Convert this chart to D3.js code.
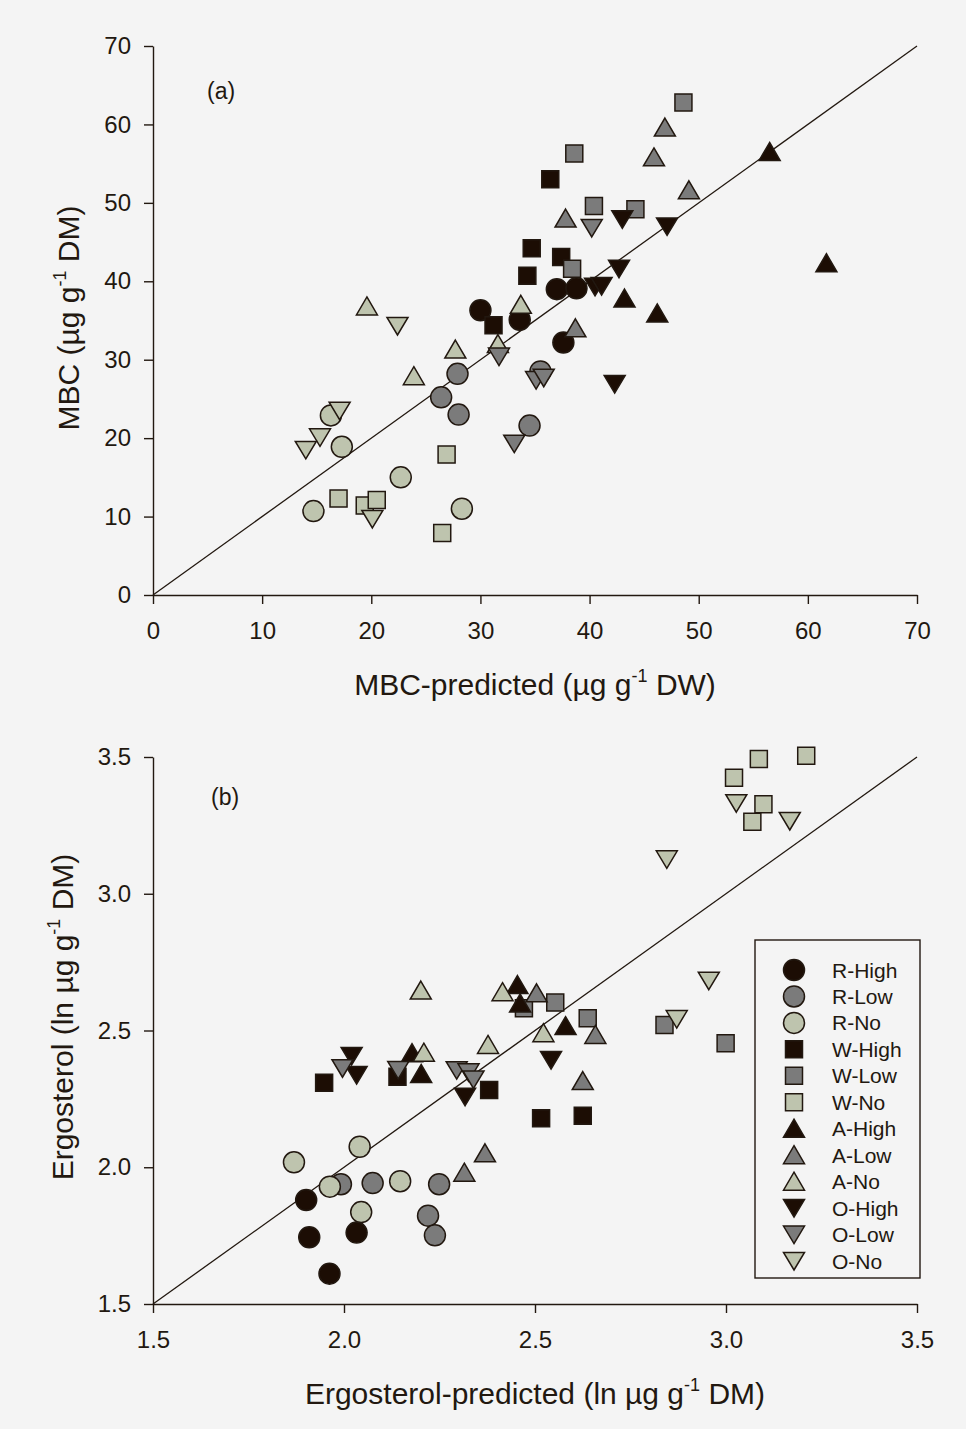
<!DOCTYPE html>
<html>
<head>
<meta charset="utf-8">
<script src="https://cdn.jsdelivr.net/npm/d3@7"></script>
<style>
  body { margin: 0; background: #f4f4f4; }
  svg { display: block; font-family: "Liberation Sans", Arial, sans-serif; }
</style>
</head>
<body>
<div id="chart"></div>
<script>
// groups in legend order
const groups = ["R-High", "R-Low", "R-No", "W-High", "W-Low", "W-No",
                "A-High", "A-Low", "A-No", "O-High", "O-Low", "O-No"];

// panel (a): MBC predicted vs measured, one row per group
const mbcPredicted = [
  [30.0, 33.6, 37.0, 38.8, 37.6],
  [27.9, 26.4, 28.0, 34.5, 35.5],
  [16.3, 17.3, 22.7, 14.7, 28.3],
  [36.4, 34.7, 37.4, 34.3, 31.2],
  [48.6, 38.6, 40.4, 44.2, 38.4],
  [26.9, 17.0, 19.4, 20.5, 26.5],
  [56.5, 61.7, 43.2, 46.2],
  [46.9, 45.9, 49.1, 37.8, 38.7],
  [33.7, 19.6, 27.7, 31.6, 23.9],
  [43.0, 47.1, 42.7, 40.5, 41.1, 42.3],
  [40.2, 31.7, 33.1, 35.1, 35.8],
  [22.4, 17.1, 15.3, 14.0, 20.1]
];
const mbcMeasured = [
  [36.3, 35.1, 39.0, 39.1, 32.2],
  [28.2, 25.2, 23.0, 21.6, 28.5],
  [22.9, 18.9, 15.0, 10.7, 11.0],
  [53.0, 44.2, 43.1, 40.7, 34.4],
  [62.8, 56.3, 49.6, 49.2, 41.6],
  [17.9, 12.3, 11.4, 12.1, 7.9],
  [56.5, 42.3, 37.8, 35.9],
  [59.6, 55.8, 51.6, 48.0, 34.0],
  [37.0, 36.8, 31.3, 32.0, 27.9],
  [47.9, 47.0, 41.6, 39.3, 39.4, 26.9],
  [46.8, 30.4, 19.3, 27.4, 27.7],
  [34.3, 23.5, 20.1, 18.5, 9.7]
];

// panel (b): ergosterol predicted vs measured (ln)
const ergPredicted = [
  [1.901, 1.909, 2.033, 1.962],
  [1.992, 2.075, 2.249, 2.220, 2.238],
  [1.869, 2.041, 1.963, 2.147, 2.045],
  [1.948, 2.140, 2.380, 2.516, 2.625],
  [2.638, 2.553, 2.839, 2.999, 2.471],
  [3.086, 3.210, 3.021, 3.098, 3.069],
  [2.178, 2.202, 2.454, 2.461, 2.580],
  [2.504, 2.658, 2.625, 2.369, 2.315],
  [2.209, 2.377, 2.522, 2.415, 2.201],
  [2.020, 2.033, 2.317, 2.542],
  [1.996, 2.142, 2.295, 2.326, 2.339],
  [3.027, 3.167, 2.845, 2.955, 2.871]
];
const ergMeasured = [
  [1.880, 1.744, 1.761, 1.611],
  [1.938, 1.942, 1.938, 1.823, 1.751],
  [2.018, 2.075, 1.929, 1.949, 1.836],
  [2.309, 2.331, 2.282, 2.179, 2.188],
  [2.545, 2.602, 2.520, 2.453, 2.581],
  [3.493, 3.505, 3.424, 3.327, 3.263],
  [2.417, 2.341, 2.666, 2.599, 2.516],
  [2.636, 2.484, 2.315, 2.051, 1.980],
  [2.419, 2.447, 2.490, 2.640, 2.646],
  [2.407, 2.337, 2.258, 2.392],
  [2.362, 2.356, 2.355, 2.347, 2.321],
  [3.331, 3.266, 3.126, 2.682, 2.542]
];

const mbcTicks = [0, 10, 20, 30, 40, 50, 60, 70];
const ergTicks = [1.5, 2.0, 2.5, 3.0, 3.5];

const ink = "#221810";
const fills = ["#1c0d04", "#7b7b7b", "#bec4ae"];
const shapes = ["circle", "square", "up", "down"];

function markerPath(shape) {
  if (shape === "circle") return d3.arc()({innerRadius: 0, outerRadius: 10.5, startAngle: 0, endAngle: 2 * Math.PI});
  if (shape === "square") return "M-8.5,-8.5H8.5V8.5H-8.5Z";
  if (shape === "up") return "M0,-9.5L10.5,8.5L-10.5,8.5Z";
  return "M0,9L10.5,-8.5L-10.5,-8.5Z";
}

const svg = d3.select("#chart").append("svg")
  .attr("width", 966).attr("height", 1429);

svg.append("rect").attr("width", 966).attr("height", 1429).attr("fill", "#f4f4f4");

function drawPanel(opt) {
  const x = d3.scaleLinear().domain(opt.domain).range([153, 917]);
  const y = d3.scaleLinear().domain(opt.domain).range(opt.yRange);
  const g = svg.append("g");

  // x axis
  const xa = g.append("g")
    .attr("transform", "translate(0," + opt.yRange[0] + ")")
    .call(d3.axisBottom(x).tickValues(opt.ticks).tickFormat(opt.fmt).tickSize(9).tickSizeOuter(0));
  xa.selectAll("text").attr("y", 27).attr("dy", "0.71em");

  // y axis
  const ya = g.append("g")
    .attr("transform", "translate(153,0)")
    .call(d3.axisLeft(y).tickValues(opt.ticks).tickFormat(opt.fmt).tickSize(9).tickSizeOuter(0));
  ya.selectAll("text").attr("x", -22);

  g.selectAll(".domain, .tick line").attr("stroke", ink).attr("stroke-width", 1.4);
  g.selectAll(".tick text").attr("fill", ink).attr("font-size", 24)
    .attr("font-family", "'Liberation Sans', Arial, sans-serif");

  // 1:1 line
  g.append("line")
    .attr("x1", x(opt.domain[0])).attr("y1", y(opt.domain[0]))
    .attr("x2", x(opt.domain[1])).attr("y2", y(opt.domain[1]))
    .attr("stroke", ink).attr("stroke-width", 1.3);

  // points
  groups.forEach(function (name, gi) {
    const pts = opt.xs[gi].map(function (v, i) { return [v, opt.ys[gi][i]]; });
    g.append("g").selectAll("path")
      .data(pts)
      .enter().append("path")
      .attr("d", markerPath(shapes[Math.floor(gi / 3)]))
      .attr("transform", function (d) { return "translate(" + x(d[0]) + "," + y(d[1]) + ")"; })
      .attr("fill", fills[gi % 3])
      .attr("stroke", ink)
      .attr("stroke-width", 1.5);
  });

  // panel label
  g.append("text").attr("x", opt.label[1]).attr("y", opt.label[2])
    .attr("font-size", 23).attr("fill", ink).text(opt.label[0]);

  // x title
  const xt = g.append("text").attr("x", 535).attr("y", opt.xTitleY)
    .attr("text-anchor", "middle").attr("font-size", 30).attr("fill", ink);
  xt.append("tspan").text(opt.xTitle[0]);
  xt.append("tspan").attr("font-size", 18).attr("dy", -13).text("-1");
  xt.append("tspan").attr("dy", 13).text(" " + opt.xTitle[1]);

  // y title
  const yt = g.append("text")
    .attr("transform", "translate(" + opt.yTitleX + "," + opt.yTitleY + ") rotate(-90)")
    .attr("text-anchor", "middle").attr("font-size", 30).attr("fill", ink);
  yt.append("tspan").text(opt.yTitle[0]);
  yt.append("tspan").attr("font-size", 18).attr("dy", -13).text("-1");
  yt.append("tspan").attr("dy", 13).text(" " + opt.yTitle[1]);

  return g;
}

drawPanel({
  domain: [0, 70], yRange: [595, 46], ticks: mbcTicks, fmt: d3.format("d"),
  xs: mbcPredicted, ys: mbcMeasured,
  label: ["(a)", 207, 99],
  xTitle: ["MBC-predicted (µg g", "DW)"], xTitleY: 695,
  yTitle: ["MBC (µg g", "DM)"], yTitleX: 79, yTitleY: 318
});

drawPanel({
  domain: [1.5, 3.5], yRange: [1304, 757], ticks: ergTicks, fmt: d3.format(".1f"),
  xs: ergPredicted, ys: ergMeasured,
  label: ["(b)", 211, 805],
  xTitle: ["Ergosterol-predicted (ln µg g", "DM)"], xTitleY: 1404,
  yTitle: ["Ergosterol (ln µg g", "DM)"], yTitleX: 73, yTitleY: 1017
});

// legend
const legend = svg.append("g");
legend.append("rect")
  .attr("x", 755).attr("y", 940).attr("width", 165).attr("height", 338)
  .attr("fill", "none").attr("stroke", ink).attr("stroke-width", 1.4);

const rowY = d3.scalePoint().domain(groups).range([970, 1261]);
groups.forEach(function (name, gi) {
  legend.append("path")
    .attr("d", markerPath(shapes[Math.floor(gi / 3)]))
    .attr("transform", "translate(794," + rowY(name) + ")")
    .attr("fill", fills[gi % 3]).attr("stroke", ink).attr("stroke-width", 1.5);
  legend.append("text")
    .attr("x", 832).attr("y", rowY(name)).attr("dy", "0.36em")
    .attr("font-size", 21).attr("fill", ink).text(name);
});
</script>
</body>
</html>
